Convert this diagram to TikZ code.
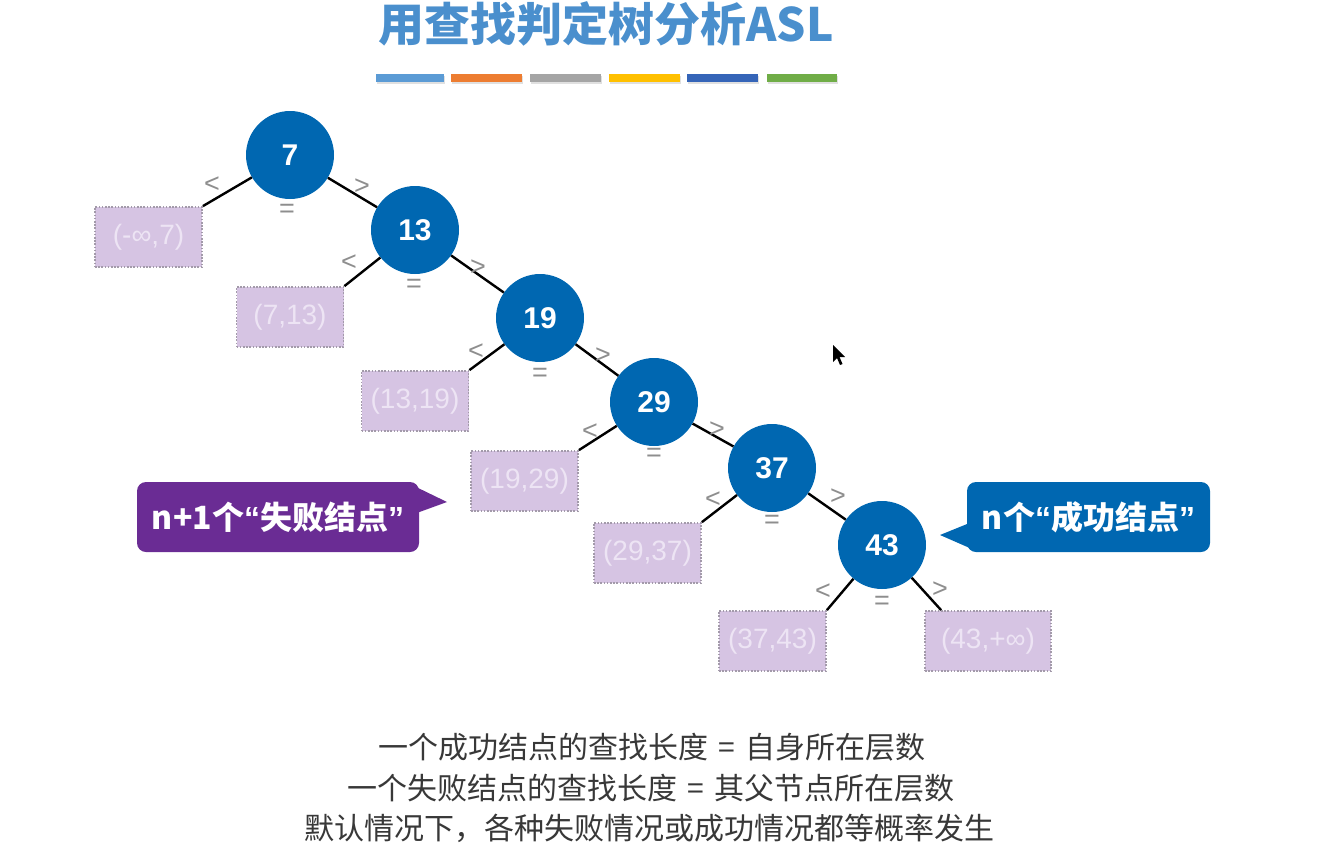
\documentclass[tikz,border=0pt]{standalone}
\usepackage{fontspec}
\setmainfont{Noto Sans CJK SC}
\newfontfamily\lat{Liberation Sans}
\definecolor{keyblue}{HTML}{0067B1}
\definecolor{failpurple}{HTML}{6A2C94}
\definecolor{gapfill}{HTML}{D6C4E3}
\definecolor{gaptext}{HTML}{EDE4F4}
\definecolor{dotgray}{HTML}{A39AAA}
\definecolor{relgray}{HTML}{8E8E8E}
\definecolor{titleblue}{HTML}{4A8FCD}
\definecolor{bodytext}{HTML}{383838}
\definecolor{barA}{HTML}{5B9BD5}
\definecolor{barB}{HTML}{ED7D31}
\definecolor{barC}{HTML}{A5A5A5}
\definecolor{barD}{HTML}{FFC000}
\definecolor{barE}{HTML}{3565B8}
\definecolor{barF}{HTML}{70AD47}
% narrow Latin quotation marks inside CJK text
\newcommand{\openq}{{\lat “}}
\newcommand{\closeq}{{\lat ”}}
\newcommand{\eqsign}{\hspace{10pt}=\hspace{10pt}}
\begin{document}
\begin{tikzpicture}[x=1pt,y=-1pt,
  keynode/.style={circle, fill=keyblue, minimum size=88pt, inner sep=0pt,
    text=white, font=\lat\fontsize{30}{30}\selectfont\bfseries},
  gapnode/.style={draw=dotgray, dash pattern=on 1.6pt off 1.6pt, line width=1.8pt,
    fill=gapfill, text=gaptext, minimum width=107pt, minimum height=60pt,
    inner sep=0pt, font=\lat\fontsize{28}{28}\selectfont},
  relnode/.style={text=relgray, inner sep=0pt, font=\lat\fontsize{27}{27}\selectfont},
  link/.style={line width=2.4pt, black},
  callout/.style={rounded corners=9pt, minimum height=70pt, inner sep=0pt,
    text=white, font=\fontsize{32}{32}\selectfont\bfseries},
  bodyline/.style={text=bodytext, inner sep=0pt, font=\fontsize{30}{30}\selectfont}
]
\useasboundingbox (0,0) rectangle (1339,847);

% title and coloured rule
\node[text=titleblue, inner sep=0pt, font=\fontsize{46}{46}\selectfont\bfseries] (title) at (606,24) {用查找判定树分析ASL};
\foreach \xa/\xb/\c in {376/444/barA, 451/522/barB, 530/601/barC, 609/680/barD, 687/758/barE, 767/837/barF}{
  \fill[black!12] (\xa+1,76) rectangle (\xb+1,84);
  \fill[\c] (\xa,74) rectangle (\xb,82);
}

% key nodes of the decision tree
\node[keynode] (k7)  at (290,155) {7};
\node[keynode] (k13) at (415,230) {13};
\node[keynode] (k19) at (540,318) {19};
\node[keynode] (k29) at (654,402) {29};
\node[keynode] (k37) at (772,468) {37};
\node[keynode] (k43) at (882,545) {43};

% failure intervals
\node[gapnode] (g0) at (148.5,237) {(-∞,7)};
\node[gapnode] (g1) at (290,317) {(7,13)};
\node[gapnode] (g2) at (415,401) {(13,19)};
\node[gapnode] (g3) at (524.5,481) {(19,29)};
\node[gapnode] (g4) at (647.5,553) {(29,37)};
\node[gapnode] (g5) at (772.5,641) {(37,43)};
\node[gapnode, minimum width=126pt] (g6) at (988,641) {(43,+∞)};

% branches
\draw[link] (k7)  -- (g0.north east);
\draw[link] (k7)  -- (k13);
\draw[link] (k13) -- (g1.north east);
\draw[link] (k13) -- (k19);
\draw[link] (k19) -- (g2.north east);
\draw[link] (k19) -- (k29);
\draw[link] (k29) -- (g3.north east);
\draw[link] (k29) -- (k37);
\draw[link] (k37) -- (g4.north east);
\draw[link] (k37) -- (k43);
\draw[link] (k43) -- (g5.north east);
\draw[link] (k43) -- ([xshift=17pt]g6.north west);

% comparison marks
\node[relnode] (l7)  at (212,185) {<};
\node[relnode] (r7)  at (362,187) {>};
\node[relnode] (e7)  at (287,211) {=};
\node[relnode] (l13) at (349,263) {<};
\node[relnode] (r13) at (478,268) {>};
\node[relnode] (e13) at (414,286) {=};
\node[relnode] (l19) at (476,352) {<};
\node[relnode] (r19) at (603,356) {>};
\node[relnode] (e19) at (540,375) {=};
\node[relnode] (l29) at (590,432) {<};
\node[relnode] (r29) at (717,430) {>};
\node[relnode] (e29) at (654,455) {=};
\node[relnode] (l37) at (713,500) {<};
\node[relnode] (r37) at (838,497) {>};
\node[relnode] (e37) at (772,522) {=};
\node[relnode] (l43) at (823,592) {<};
\node[relnode] (r43) at (940,590) {>};
\node[relnode] (e43) at (882,603) {=};

% callouts
\fill[failpurple] (414,486) -- (447,502) -- (414,514) -- cycle;
\node[callout, fill=failpurple, minimum width=282pt] (cf) at (278,517) {n+1个\openq 失败结点\closeq};
\fill[keyblue] (972,522) -- (940,535) -- (972,549) -- cycle;
\node[callout, fill=keyblue, minimum width=243pt] (cs) at (1088.5,517) {n个\openq 成功结点\closeq};

% mouse pointer
\fill[black] (833,345) -- (833,362) -- (837,358) -- (840,365) -- (842.5,364) -- (839.5,357) -- (845,357) -- cycle;

% notes
\node[bodyline] (n1) at (652,747) {一个成功结点的查找长度\eqsign 自身所在层数};
\node[bodyline] (n2) at (651,788) {一个失败结点的查找长度\eqsign 其父节点所在层数};
\node[bodyline] (n3) at (649,828) {默认情况下，各种失败情况或成功情况都等概率发生};
\end{tikzpicture}
\end{document}
